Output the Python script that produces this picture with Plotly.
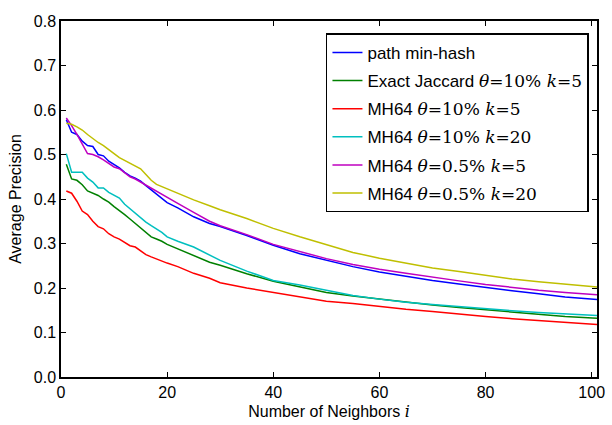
import plotly.graph_objects as go

x_vals = [1, 2, 3, 4, 5, 6, 7, 8, 9, 10, 11, 12, 13, 14, 15, 16, 17, 18, 19, 20,
          22, 25, 28, 30, 35, 40, 45, 50, 55, 60, 65, 70, 75, 80, 85, 90, 95, 101]

path_minhash = [0.578, 0.55, 0.545, 0.53, 0.52, 0.518, 0.50, 0.497, 0.485, 0.478,
                0.47, 0.46, 0.452, 0.447, 0.44, 0.43, 0.42, 0.41, 0.40, 0.392,
                0.38, 0.36, 0.345, 0.338, 0.318, 0.296, 0.277, 0.262, 0.248, 0.236,
                0.226, 0.217, 0.209, 0.201, 0.194, 0.187, 0.180, 0.174]
exact_jaccard = [0.478, 0.445, 0.442, 0.432, 0.418, 0.413, 0.408, 0.40, 0.393, 0.383,
                 0.375, 0.365, 0.355, 0.345, 0.333, 0.325, 0.315, 0.31, 0.305, 0.298,
                 0.288, 0.272, 0.258, 0.251, 0.232, 0.215, 0.202, 0.19, 0.182, 0.175,
                 0.168, 0.162, 0.156, 0.151, 0.145, 0.141, 0.136, 0.132]
mh_10_5 = [0.418, 0.413, 0.395, 0.373, 0.365, 0.35, 0.338, 0.333, 0.322, 0.315,
           0.31, 0.302, 0.295, 0.292, 0.283, 0.275, 0.27, 0.265, 0.26, 0.256,
           0.248, 0.233, 0.222, 0.212, 0.20, 0.19, 0.181, 0.17, 0.165, 0.158,
           0.152, 0.147, 0.141, 0.136, 0.131, 0.127, 0.123, 0.118]
mh_10_20 = [0.502, 0.46, 0.46, 0.46, 0.447, 0.438, 0.425, 0.425, 0.415, 0.408,
            0.402, 0.388, 0.378, 0.368, 0.357, 0.348, 0.34, 0.333, 0.325, 0.315,
            0.305, 0.292, 0.275, 0.262, 0.238, 0.217, 0.207, 0.195, 0.183, 0.175,
            0.168, 0.163, 0.158, 0.153, 0.149, 0.145, 0.142, 0.138]
mh_05_5 = [0.582, 0.565, 0.545, 0.525, 0.502, 0.50, 0.495, 0.488, 0.48, 0.472,
           0.468, 0.46, 0.45, 0.445, 0.438, 0.432, 0.425, 0.418, 0.41, 0.403,
           0.39, 0.37, 0.35, 0.34, 0.32, 0.298, 0.282, 0.266, 0.253, 0.242,
           0.233, 0.224, 0.216, 0.208, 0.201, 0.195, 0.19, 0.185]
mh_05_20 = [0.57, 0.568, 0.562, 0.555, 0.545, 0.535, 0.527, 0.52, 0.51, 0.502,
            0.493, 0.487, 0.48, 0.475, 0.468, 0.455, 0.442, 0.433, 0.428, 0.422,
            0.412, 0.398, 0.385, 0.376, 0.356, 0.334, 0.315, 0.297, 0.28, 0.267,
            0.256, 0.245, 0.237, 0.228, 0.22, 0.214, 0.208, 0.202]

M = '<span style="font-family:\'DejaVu Serif\', serif">'
names = [
    "path min-hash",
    "Exact Jaccard " + M + "<i>θ</i>=10% <i>k</i>=5</span>",
    "MH64 " + M + "<i>θ</i>=10% <i>k</i>=5</span>",
    "MH64 " + M + "<i>θ</i>=10% <i>k</i>=20</span>",
    "MH64 " + M + "<i>θ</i>=0.5% <i>k</i>=5</span>",
    "MH64 " + M + "<i>θ</i>=0.5% <i>k</i>=20</span>",
]
series = [path_minhash, exact_jaccard, mh_10_5, mh_10_20, mh_05_5, mh_05_20]
colors = ["#0000ff", "#008000", "#ff0000", "#00bfbf", "#bf00bf", "#bfbf00"]

fig = go.Figure()
for i, (n, s, c) in enumerate(zip(names, series, colors)):
    fig.add_trace(go.Scatter(x=x_vals, y=s, mode="lines", name=n,
                             legendgroup=f"g{i}",
                             line=dict(color=c, width=1.5)))

axis_common = dict(showline=True, linecolor="black", linewidth=1.5, mirror="ticks",
                   ticks="inside", ticklen=5, tickwidth=1, tickcolor="black",
                   showgrid=False, zeroline=False,
                   tickfont=dict(family="Liberation Sans, Arial", size=16, color="black"))

fig.update_layout(
    width=612, height=425,
    margin=dict(l=61, r=7, t=21, b=48),
    paper_bgcolor="white", plot_bgcolor="white",
    font=dict(family="Liberation Sans, Arial", size=16, color="black"),
    xaxis=dict(range=[0, 101], tickvals=[0, 20, 40, 60, 80, 100],
               title=dict(text="Number of Neighbors " + M + "<i>i</i></span>",
                          font=dict(size=16), standoff=6),
               **axis_common),
    yaxis=dict(range=[0, 0.8], tickvals=[0, 0.1, 0.2, 0.3, 0.4, 0.5, 0.6, 0.7, 0.8],
               tickformat=".1f",
               title=dict(text="Average Precision", font=dict(size=16), standoff=8),
               **axis_common),
    legend=dict(x=0.985, y=0.965, xanchor="right", yanchor="top",
                bgcolor="white", bordercolor="black", borderwidth=1.5,
                font=dict(size=17), traceorder="grouped", tracegroupgap=3,
                itemwidth=30),
    showlegend=True,
)

fig.write_html("out.html")
